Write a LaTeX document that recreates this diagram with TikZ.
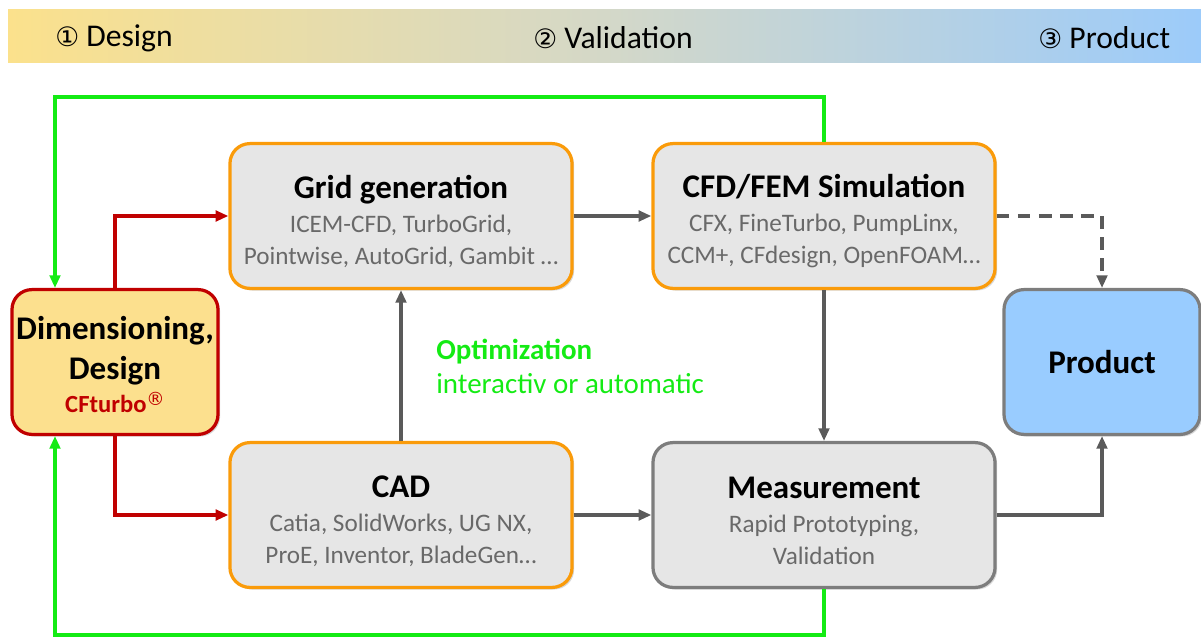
\documentclass[tikz,border=0pt]{standalone}
\usepackage{fontspec}
\setmainfont{Carlito}
\newfontfamily\symfont{DejaVu Sans}
\usepackage{tikz}
\usetikzlibrary{arrows.meta,shadows}

\definecolor{cfred}{RGB}{192,0,0}
\definecolor{cforange}{RGB}{250,155,10}
\definecolor{boxgray}{RGB}{230,230,230}
\definecolor{edgegray}{RGB}{125,125,125}
\definecolor{linegray}{RGB}{90,90,90}
\definecolor{subgray}{RGB}{105,105,105}
\definecolor{optgreen}{RGB}{20,235,20}
\definecolor{dimyellow}{RGB}{252,224,142}
\definecolor{prodblue}{RGB}{153,204,255}
\definecolor{hdyellow}{RGB}{251,225,140}
\definecolor{hdmid}{RGB}{212,216,200}
\definecolor{hdblue}{RGB}{156,203,250}

\tikzset{
  box/.style={draw=cforange, line width=2.3pt, rounded corners=0.5cm,
    fill=boxgray, minimum width=8.55cm, minimum height=3.62cm, align=center,
    inner xsep=2pt, text=subgray, font=\fontsize{17.9}{22.8}\selectfont,
    drop shadow={shadow xshift=1.5pt, shadow yshift=-1.5pt, opacity=0.3}},
  hdtext/.style={font=\fontsize{22.5}{26}\selectfont, anchor=west, inner sep=0pt},
  grayline/.style={line width=2.2pt, draw=linegray, -{Triangle[length=9pt,width=7.5pt]}},
  redline/.style={line width=2.2pt, draw=cfred, -{Triangle[length=9pt,width=7.5pt]}},
  greenline/.style={line width=2.2pt, draw=optgreen, -{Triangle[length=9pt,width=7.5pt]}},
}
\newcommand{\boxtitle}{\rule{0pt}{24pt}\fontsize{23.5}{26}\selectfont\bfseries\color{black}}
\newcommand{\circnum}[1]{{\symfont\fontsize{19}{22}\selectfont #1}}

\begin{document}
\begin{tikzpicture}[x=0.025cm,y=-0.025cm]
\useasboundingbox (0,0) rectangle (1201,637);

% header bar
\shade[left color=hdyellow, right color=hdblue, middle color=hdmid] (8,10) rectangle (1201,63);
\node[hdtext] (h1) at (55,38) {\circnum{①} Design};
\node[hdtext] (h2) at (533,38) {\circnum{②} Validation};
\node[hdtext] (h3) at (1038,38) {\circnum{③} Product};

% boxes
\node[box, draw=cfred, fill=dimyellow, minimum width=5.15cm, text=black,
  font=\fontsize{23.5}{28.5}\selectfont\bfseries] (dim) at (115,362)
  {\rule{0pt}{20pt}Dimensioning,\\ Design\\[-4.5pt]
   {\fontsize{17.5}{20}\selectfont\color{cfred}CFturbo\raisebox{5.5pt}{\symfont\fontsize{13}{13}\selectfont\mdseries ®}}};
\node[box] (grid) at (401,216)
  {{\boxtitle Grid generation}\\[1.4pt] ICEM-CFD, TurboGrid,\\ Pointwise, AutoGrid, Gambit …};
\node[box] (cfd) at (824,216)
  {{\boxtitle CFD/FEM Simulation}\\[1.4pt] CFX, FineTurbo, PumpLinx,\\ CCM+, CFdesign, OpenFOAM…};
\node[box] (cad) at (401,515)
  {{\boxtitle CAD}\\[1.4pt] Catia, SolidWorks, UG NX,\\ ProE, Inventor, BladeGen…};
\node[box, draw=edgegray] (meas) at (824,515)
  {{\boxtitle Measurement}\\[1.4pt] Rapid Prototyping,\\ Validation};
\node[box, draw=edgegray, fill=prodblue, minimum width=4.9cm] (prod) at (1102,362)
  {\fontsize{23.5}{26}\selectfont\bfseries\color{black}Product};

% optimization label
\node[anchor=north west, align=left, text=optgreen, inner sep=0pt,
  font=\fontsize{20.6}{24}\selectfont] (opt) at (436,339)
  {\textbf{Optimization}\\ interactiv or automatic};

% connectors
\draw[redline] (dim.north) |- (grid.west);
\draw[redline] (dim.south) |- (cad.west);
\draw[grayline] (grid.east) -- (cfd.west);
\draw[grayline] (cad.north) -- (grid.south);
\draw[grayline] (cad.east) -- (meas.west);
\draw[grayline] (cfd.south) -- (meas.north);
\draw[grayline, dash pattern=on 9pt off 6pt] (cfd.east) -| (prod.north);
\draw[grayline] (meas.east) -| (prod.south);

\coordinate (gtop) at (55,97);
\coordinate (gbot) at (55,635);
\draw[greenline] (cfd.north) |- (gtop) -- (gtop |- dim.north);
\draw[greenline] (meas.south) |- (gbot) -- (gbot |- dim.south);

\end{tikzpicture}
\end{document}
